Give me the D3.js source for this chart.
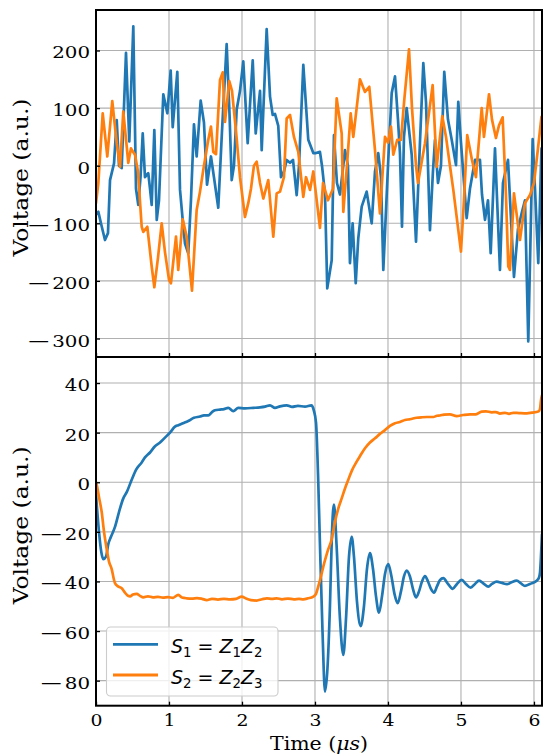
<!DOCTYPE html>
<html><head><meta charset="utf-8">
<script src="https://cdn.jsdelivr.net/npm/d3@7"></script>
<style>html,body{margin:0;padding:0;background:#fff;} svg{display:block}</style>
</head><body>
<svg id="chart" width="544" height="756"></svg>
<script>
// ---------------- data ----------------
const xTicks = [0, 1, 2, 3, 4, 5, 6];
const yTicksTop = [200, 100, 0, -100, -200, -300];
const yTicksBottom = [40, 20, 0, -20, -40, -60, -80];
const xLabel = "Time";
const yLabel = "Voltage (a.u.)";
const legendLabels = [["S","1","Z","1","Z","2"], ["S","2","Z","2","Z","3"]];

// top panel, S1 (blue): [time µs, voltage]
const s1Top = [[0,-85],[0.032,-80],[0.068,-100],[0.123,-129],[0.164,-117],[0.192,-25],[0.247,4],[0.284,79],[0.315,0],[0.352,-4],
[0.411,196],[0.456,42],[0.511,242],[0.548,-40],[0.579,-68],[0.610,-20],[0.640,56],[0.671,-20],[0.716,-13],[0.740,-40],
[0.763,-68],[0.799,62],[0.832,-94],[0.863,-60],[0.922,124],[0.977,91],[1.023,165],[1.051,67],[1.114,163],[1.151,-42],
[1.192,-100],[1.219,-135],[1.264,-152],[1.301,-60],[1.342,72],[1.379,16],[1.434,113],[1.479,75],[1.521,-33],[1.575,16],
[1.616,-20],[1.675,-73],[1.726,60],[1.790,211],[1.829,90],[1.859,-25],[1.890,0],[1.927,97],[1.973,130],[2.018,181],
[2.078,39],[2.147,183],[2.188,56],[2.247,130],[2.270,27],[2.338,237],[2.384,120],[2.421,88],[2.452,90],[2.497,69],
[2.534,-20],[2.575,-10],[2.612,10],[2.658,5],[2.699,10],[2.749,-51],[2.781,0],[2.840,175],[2.908,45],[2.977,22],
[3.014,22],[3.068,24],[3.096,0],[3.137,-48],[3.168,-213],[3.229,-164],[3.260,53],[3.301,-30],[3.342,-50],[3.370,-20],
[3.411,27],[3.452,0],[3.479,-169],[3.516,-100],[3.558,-204],[3.593,-126],[3.640,-71],[3.708,-45],[3.777,-100],[3.822,-10],
[3.867,22],[3.904,-20],[3.936,-181],[4.004,10],[4.051,126],[4.096,155],[4.137,80],[4.164,22],[4.192,-106],[4.219,50],
[4.256,100],[4.325,19],[4.384,-132],[4.438,40],[4.484,178],[4.521,110],[4.575,-112],[4.616,-10],[4.644,45],[4.685,-30],
[4.726,0],[4.771,163],[4.822,80],[4.873,45],[4.932,1],[4.963,111],[5.000,40],[5.078,-91],[5.123,-40],[5.192,10],
[5.260,10],[5.288,-50],[5.329,-94],[5.370,-60],[5.407,-152],[5.466,30],[5.534,-181],[5.575,-30],[5.644,10],[5.726,-193],
[5.781,-110],[5.836,-80],[5.877,-60],[5.922,-305],[5.982,46],[6.014,-40],[6.059,-169],[6.103,30]];

// top panel, S2 (orange)
const s2Top = [[0,-65],[0.032,-30],[0.092,91],[0.155,16],[0.223,112],[0.284,39],[0.329,-2],[0.374,94],[0.421,33],[0.442,5],
[0.479,30],[0.534,19],[0.575,-10],[0.626,-106],[0.648,-115],[0.703,-106],[0.763,-175],[0.799,-211],[0.849,-160],[0.900,-100],
[0.945,-150],[1.000,-198],[1.027,-204],[1.096,-123],[1.127,-181],[1.188,-93],[1.242,-123],[1.315,-217],[1.379,-77],[1.425,-45],
[1.470,-7],[1.538,45],[1.575,68],[1.607,24],[1.644,20],[1.699,149],[1.736,162],[1.767,76],[1.826,147],[1.863,130],
[1.918,60],[1.973,-20],[2.041,-89],[2.086,-65],[2.123,-40],[2.164,0],[2.201,7],[2.247,-30],[2.292,-57],[2.360,-25],
[2.429,-123],[2.475,-48],[2.521,-45],[2.575,-20],[2.612,82],[2.658,88],[2.712,50],[2.771,24],[2.840,-54],[2.877,-20],
[2.932,-42],[2.977,-10],[3.068,-108],[3.110,-30],[3.178,-60],[3.247,-40],[3.297,117],[3.366,56],[3.388,-80],[3.438,0],
[3.489,91],[3.525,50],[3.616,150],[3.685,128],[3.744,137],[3.822,27],[3.890,-83],[3.959,50],[4.000,40],[4.041,68],
[4.073,19],[4.127,45],[4.178,45],[4.223,114],[4.288,202],[4.329,100],[4.384,0],[4.411,-30],[4.507,39],[4.612,140],
[4.667,-2],[4.744,86],[4.795,50],[4.849,0],[4.895,-42],[5.000,-149],[5.041,-60],[5.086,53],[5.151,10],[5.205,-20],
[5.284,100],[5.315,50],[5.384,124],[5.425,80],[5.479,48],[5.521,70],[5.571,84],[5.616,-50],[5.648,-175],[5.671,-181],
[5.726,-48],[5.808,-129],[5.877,-65],[5.945,-51],[6.000,-30],[6.055,30],[6.103,85]];

// bottom panel, S1 (blue)
const s1Bottom = [[0,-5],[0.010,-9],[0.078,-29],[0.100,-31],[0.137,-30],[0.168,-25],[0.205,-22],[0.260,-18],[0.315,-12],[0.374,-6.5],
[0.421,-4],[0.489,1],[0.548,5],[0.626,8],[0.671,10],[0.740,12],[0.808,14.5],[0.877,16],[0.945,18],[1.014,20],
[1.082,22.4],[1.127,23],[1.192,23.8],[1.264,24.7],[1.342,26],[1.425,26.5],[1.479,27],[1.538,27],[1.589,28.3],[1.630,29],
[1.699,29.3],[1.753,29.5],[1.812,30],[1.881,28.7],[1.949,30],[2.041,29.8],[2.155,30],[2.247,30.2],[2.315,30.5],[2.384,31],
[2.452,30],[2.521,30.6],[2.612,31],[2.685,30.4],[2.767,30.8],[2.863,30.5],[2.951,31],[2.984,29],[3.014,24],[3.045,0],
[3.068,-25],[3.103,-60],[3.137,-84.4],[3.171,-75],[3.205,-50],[3.233,-20],[3.260,-9],[3.295,-25],[3.342,-55],[3.388,-69.6],
[3.425,-55],[3.466,-30],[3.503,-22],[3.534,-30],[3.575,-48],[3.626,-58],[3.671,-50],[3.712,-35],[3.753,-28.6],[3.795,-35],
[3.836,-46],[3.877,-52.6],[3.918,-46],[3.959,-37],[4.004,-33],[4.048,-38],[4.089,-45],[4.133,-48.8],[4.178,-44],[4.219,-38],
[4.256,-35.6],[4.301,-38],[4.342,-43],[4.384,-46.4],[4.425,-44],[4.466,-40],[4.507,-37.8],[4.548,-40],[4.589,-43],[4.630,-44.5],
[4.671,-42],[4.712,-39.5],[4.758,-38.7],[4.822,-41],[4.886,-43],[4.945,-41],[5.010,-39.4],[5.068,-41],[5.133,-42.5],[5.192,-41],
[5.247,-39.7],[5.315,-41],[5.374,-42.1],[5.425,-41],[5.489,-40.1],[5.562,-40.6],[5.630,-41.1],[5.694,-40.3],[5.763,-39.7],[5.822,-40.8],
[5.877,-41.8],[5.945,-41],[6.037,-39.7],[6.068,-38.5],[6.082,-36.6],[6.096,-30],[6.110,-21]];

// bottom panel, S2 (orange)
const s2Bottom = [[0,0],[0.010,-1],[0.041,-6],[0.078,-12],[0.110,-20],[0.147,-27],[0.178,-32],[0.215,-35],[0.240,-38.5],[0.260,-40.7],
[0.301,-42],[0.352,-42.7],[0.397,-44.5],[0.438,-45.8],[0.466,-46],[0.507,-45.3],[0.558,-45],[0.603,-45.8],[0.648,-46.4],[0.712,-46],
[0.781,-46.4],[0.849,-46.2],[0.918,-46.5],[0.986,-46.3],[1.055,-46.6],[1.127,-45.4],[1.178,-46.5],[1.242,-46.8],[1.315,-46.9],[1.384,-46.7],
[1.452,-47],[1.516,-47.5],[1.589,-47],[1.671,-47.3],[1.753,-47],[1.836,-47.2],[1.918,-47],[1.996,-46.1],[2.055,-46.9],[2.123,-47.5],
[2.201,-47.7],[2.274,-47.2],[2.342,-46.8],[2.411,-47],[2.475,-46.8],[2.548,-47.2],[2.630,-46.9],[2.712,-47.2],[2.781,-47],[2.840,-47.2],
[2.904,-46.8],[2.977,-46.1],[3.014,-45],[3.045,-42],[3.082,-38],[3.114,-34],[3.151,-30],[3.182,-27],[3.229,-23],[3.274,-15.9],
[3.315,-11],[3.366,-6.5],[3.411,-2.5],[3.456,1],[3.507,4.8],[3.571,8.3],[3.616,10.5],[3.685,13.7],[3.753,16],[3.822,17.7],
[3.890,19.5],[3.959,21],[4.027,22.7],[4.096,23.8],[4.164,24.3],[4.233,25.1],[4.301,25.4],[4.393,26],[4.466,26.2],[4.534,26.3],
[4.620,26.3],[4.671,26.8],[4.712,26.9],[4.767,27.3],[4.849,27.4],[4.941,26.7],[5.027,27.1],[5.123,27.4],[5.205,27.4],[5.284,28.5],
[5.342,28.6],[5.421,28.2],[5.479,28.3],[5.534,27.7],[5.603,28],[5.658,27.6],[5.716,28],[5.795,27.9],[5.904,27.8],[5.973,28.1],
[6.059,28.5],[6.082,29.5],[6.096,33],[6.110,35]];

// ---------------- drawing ----------------
const BLUE = "#1f77b4", ORANGE = "#ff7f0e";
const svg = d3.select("#chart");
const L = 96, R = 542;
const x = d3.scaleLinear().domain([0, 6.11]).range([L, R]);
const yTop = d3.scaleLinear().domain([-332.1, 270.3]).range([357, 10]);
const yBot = d3.scaleLinear().domain([-90.1, 50.5]).range([705.7, 357]);
const SERIF = "'DejaVu Serif', serif";

function drawPanel(id, y, pTop, pBot, ticks, a, b, showX, curve) {
  const g = svg.append("g");
  svg.append("defs").append("clipPath").attr("id", id)
    .append("rect").attr("x", L).attr("y", pTop).attr("width", R - L).attr("height", pBot - pTop);
  // grid
  g.append("g").selectAll("line").data(xTicks).join("line")
    .attr("x1", d => x(d)).attr("x2", d => x(d)).attr("y1", pTop).attr("y2", pBot)
    .attr("stroke", "#b0b0b0").attr("stroke-width", 1.1);
  g.append("g").selectAll("line").data(ticks).join("line")
    .attr("x1", L).attr("x2", R).attr("y1", d => y(d)).attr("y2", d => y(d))
    .attr("stroke", "#b0b0b0").attr("stroke-width", 1.1);
  // lines
  const line = d3.line().x(d => x(d[0])).y(d => y(d[1])).curve(curve);
  const lg = g.append("g").attr("clip-path", `url(#${id})`);
  lg.append("path").datum(a).attr("d", line).attr("fill", "none").attr("stroke", BLUE)
    .attr("stroke-width", 2.7).attr("stroke-linejoin", "round").attr("stroke-linecap", "round");
  lg.append("path").datum(b).attr("d", line).attr("fill", "none").attr("stroke", ORANGE)
    .attr("stroke-width", 2.7).attr("stroke-linejoin", "round").attr("stroke-linecap", "round");
  // y axis
  const ya = g.append("g").attr("transform", `translate(${L},0)`)
    .call(d3.axisLeft(y).tickValues(ticks).tickSizeInner(-4).tickSizeOuter(0));
  ya.select(".domain").remove();
  ya.selectAll(".tick line").attr("stroke", "#000").attr("stroke-width", 1.3);
  ya.selectAll(".tick").each(function (d) {
    const t = d3.select(this);
    t.select("text").remove();
    const s = String(Math.abs(d));
    t.append("text").attr("x", -6).attr("y", 7.5).attr("text-anchor", "end")
      .attr("font-family", SERIF).attr("font-size", 16.5).attr("fill", "#000")
      .attr("textLength", 12.6 * s.length).attr("lengthAdjust", "spacingAndGlyphs").text(s);
    if (d < 0) {
      t.append("text").attr("x", -6 - 12.6 * s.length - 1).attr("y", 7.5).attr("text-anchor", "end")
        .attr("font-family", SERIF).attr("font-size", 16.5).attr("fill", "#000")
        .attr("textLength", 25).attr("lengthAdjust", "spacingAndGlyphs").text("\u2212");
    }
  });
  // x axis
  const xa = g.append("g").attr("transform", `translate(0,${pBot})`)
    .call(d3.axisBottom(x).tickValues(xTicks).tickSizeInner(-4).tickSizeOuter(0));
  xa.select(".domain").remove();
  xa.selectAll(".tick line").attr("stroke", "#000").attr("stroke-width", 1.3);
  xa.selectAll(".tick text").remove();
  if (showX) {
    xa.selectAll(".tick").append("text").attr("x", 0).attr("y", 20).attr("text-anchor", "middle")
      .attr("font-family", SERIF).attr("font-size", 17.5).attr("fill", "#000")
      .attr("textLength", 12).attr("lengthAdjust", "spacingAndGlyphs").text(d => String(d));
  }
  // spines
  g.append("rect").attr("x", L).attr("y", pTop).attr("width", R - L).attr("height", pBot - pTop)
    .attr("fill", "none").attr("stroke", "#000").attr("stroke-width", 2);
  // y label
  svg.append("text").attr("transform", `translate(28,${(pTop + pBot) / 2 - 6}) rotate(-90)`)
    .attr("text-anchor", "middle").attr("font-family", SERIF).attr("font-size", 20)
    .attr("textLength", 158).attr("lengthAdjust", "spacingAndGlyphs").attr("fill", "#000").text(yLabel);
}

drawPanel("clipTop", yTop, 10, 357, yTicksTop, s1Top, s2Top, false, d3.curveLinear);
drawPanel("clipBot", yBot, 357, 705.7, yTicksBottom, s1Bottom, s2Bottom, true, d3.curveMonotoneX);

// x label
const xl = svg.append("text").attr("x", (L + R) / 2).attr("y", 750).attr("text-anchor", "middle")
  .attr("font-family", SERIF).attr("font-size", 18.5).attr("fill", "#000")
  .attr("textLength", 98).attr("lengthAdjust", "spacingAndGlyphs");
xl.append("tspan").text(xLabel + " (");
xl.append("tspan").attr("font-style", "italic").text("\u03bcs");
xl.append("tspan").text(")");

// legend
const leg = svg.append("g");
leg.append("rect").attr("x", 106.5).attr("y", 627).attr("width", 171.5).attr("height", 69).attr("rx", 4)
  .attr("fill", "#fff").attr("fill-opacity", 0.8).attr("stroke", "#cccccc").attr("stroke-width", 1.1);
[BLUE, ORANGE].forEach((c, i) => {
  const cy = 644.3 + i * 30.7;
  leg.append("line").attr("x1", 113).attr("x2", 158).attr("y1", cy).attr("y2", cy)
    .attr("stroke", c).attr("stroke-width", 2.8);
  const p = legendLabels[i];
  const t = leg.append("text").attr("x", 171).attr("y", cy + 9)
    .attr("font-family", "'DejaVu Sans', sans-serif").attr("font-size", 19).attr("fill", "#000");
  t.append("tspan").attr("font-style", "italic").text(p[0]);
  t.append("tspan").attr("font-size", 13.3).attr("dy", 3.5).text(p[1]);
  t.append("tspan").attr("dy", -3.5).text(" = ");
  t.append("tspan").attr("font-style", "italic").text(p[2]);
  t.append("tspan").attr("font-size", 13.3).attr("dy", 3.5).text(p[3]);
  t.append("tspan").attr("dy", -3.5).attr("font-style", "italic").text(p[4]);
  t.append("tspan").attr("font-size", 13.3).attr("dy", 3.5).text(p[5]);
});
</script>
</body></html>
